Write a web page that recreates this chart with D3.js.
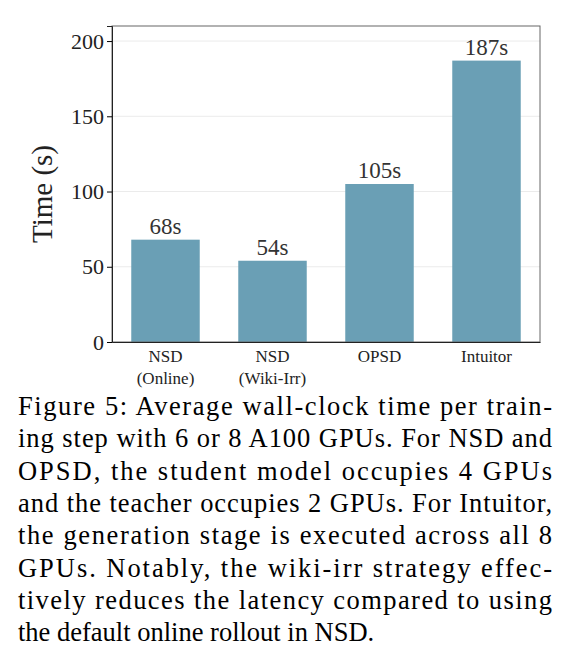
<!DOCTYPE html>
<html><head><meta charset="utf-8">
<script src="https://cdn.jsdelivr.net/npm/d3@7"></script>
<style>body{margin:0;background:#fff}</style>
</head><body>
<svg id="chart" width="570" height="665"></svg>
<script>
var categories = [["NSD", "(Online)"], ["NSD", "(Wiki-Irr)"], ["OPSD"], ["Intuitor"]];
var times = [68, 54, 105, 187];
var yTicks = [0, 50, 100, 150, 200];
var captionLines = [
  "Figure 5: Average wall-clock time per train-",
  "ing step with 6 or 8 A100 GPUs. For NSD and",
  "OPSD, the student model occupies 4 GPUs",
  "and the teacher occupies 2 GPUs. For Intuitor,",
  "the generation stage is executed across all 8",
  "GPUs.  Notably, the wiki-irr strategy effec-",
  "tively reduces the latency compared to using",
  "the default online rollout in NSD."
];

(function () {
var svg = d3.select("#chart");
var serif = "'Liberation Serif', 'DejaVu Serif', serif";
var pl = 112, pr = 540, pt = 26, pb = 342;

var x = d3.scaleBand().domain(d3.range(times.length)).range([pl, pr]).paddingInner(0.36).paddingOuter(0.18);
var y = d3.scaleLinear().domain([0, 210]).range([pb, pt]);

// grid
svg.append("g").selectAll("line").data(yTicks.slice(1)).join("line")
  .attr("x1", pl).attr("x2", pr).attr("y1", d => y(d)).attr("y2", d => y(d))
  .attr("stroke", "#ebebeb").attr("stroke-width", 1);

svg.append("g").selectAll("rect").data(times).join("rect")
  .attr("x", (d, i) => x(i)).attr("width", x.bandwidth())
  .attr("y", d => y(d)).attr("height", d => y(0) - y(d))
  .attr("fill", "#6a9fb5");

svg.append("g").selectAll("text").data(times).join("text")
  .attr("x", (d, i) => x(i) + x.bandwidth() / 2).attr("y", d => y(d) - 6)
  .attr("text-anchor", "middle").attr("font-family", serif).attr("font-size", 23)
  .attr("fill", "#333").text(d => d + "s");

// frame
svg.append("rect").attr("x", pl).attr("y", pt).attr("width", pr - pl).attr("height", pb - pt)
  .attr("fill", "none").attr("stroke", "#666").attr("stroke-width", 1);

var yAxis = svg.append("g").attr("transform", "translate(" + pl + ",0)")
  .call(d3.axisLeft(y).tickValues(yTicks).tickSize(5).tickPadding(3));
yAxis.select(".domain").attr("stroke", "#222");
yAxis.selectAll("text").attr("font-family", serif).attr("font-size", 22).attr("fill", "#222");

var xAxis = svg.append("g").attr("transform", "translate(0," + pb + ")")
  .call(d3.axisBottom(x).tickSize(0).tickFormat(""));
xAxis.select(".domain").attr("stroke", "#222");

svg.append("g").selectAll("text").data(categories).join("text")
  .attr("x", (d, i) => x(i) + x.bandwidth() / 2).attr("y", pb + 20)
  .attr("text-anchor", "middle").attr("font-family", serif).attr("font-size", 17).attr("fill", "#222")
  .each(function (d) {
    var cx = d3.select(this).attr("x");
    d3.select(this).selectAll("tspan").data(d).join("tspan")
      .attr("x", cx).attr("dy", (t, j) => j ? 22 : 0).text(t => t);
  });

svg.append("text").attr("transform", "translate(52," + ((pt + pb) / 2 + 10) + ") rotate(-90)")
  .attr("text-anchor", "middle").attr("font-family", serif).attr("font-size", 29).attr("fill", "#222")
  .text("Time (s)");

// caption
svg.append("g").selectAll("text").data(captionLines).join("text")
  .attr("x", 18).attr("y", (d, i) => 415 + i * 32.3)
  .attr("font-family", serif).attr("font-size", 26.5).attr("fill", "#000")
  .attr("textLength", (d, i) => i < captionLines.length - 1 ? 534 : null)
  .attr("lengthAdjust", "spacing")
  .text(d => d);
})();
</script>
</body></html>
